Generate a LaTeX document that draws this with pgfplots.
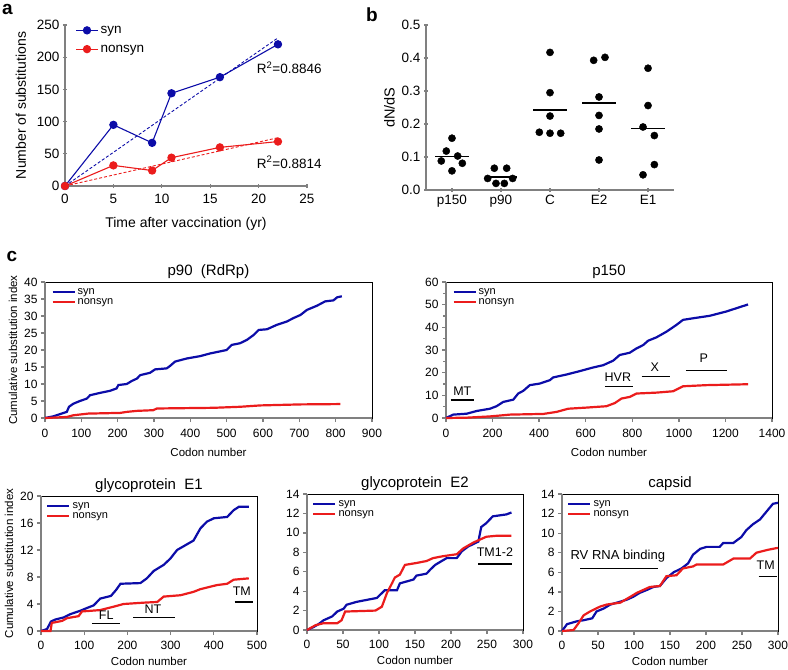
\documentclass[border=0pt]{standalone}
\usepackage{fontspec}
\setmainfont{Liberation Sans}
\usepackage{pgfplots}
\pgfplotsset{compat=1.18}

\definecolor{synblue}{RGB}{12,12,168}
\definecolor{nsred}{RGB}{235,28,28}
\definecolor{axgray}{RGB}{128,128,128}

\newcommand\fs[1]{\fontsize{#1}{#1}\selectfont}
\newcommand\spines{\draw[axgray, line width=2pt] (rel axis cs:0,1) -- (rel axis cs:0,0) -- (rel axis cs:1,0);}
\newcommand\regbar[3]{\draw[black, line width=1.3pt] (axis cs:#1,#3) -- (axis cs:#2,#3);}

\pgfplotsset{
  base/.style={scale only axis, anchor=south west,
    /pgf/number format/assume math mode=true,
    /pgf/number format/set thousands separator={},
    tick align=outside, major tick length=4pt,
    xtick pos=bottom, ytick pos=left,
    tick style={axgray, line width=1.3pt},
    ticklabel style={font=\fs{12}},
    label style={font=\fs{11.5}},
  },
  cpanel/.style={base, clip=false,
    axis line style={black, line width=0.7pt},
    title style={font=\fs{15}, yshift=-6pt},
    xlabel={Codon number},
    xticklabel style={yshift=-4pt},
    xlabel style={yshift=-3pt},
    legend style={at={(0.01,0.985)}, anchor=north west, draw=none, fill=none,
      font=\fs{11}, row sep=-1.5pt, legend cell align=left},
    legend image code/.code={\draw[##1] (0pt,0pt) -- (22pt,0pt);},
    every axis plot/.append style={line width=2.2pt},
  },
  % these add to the shifts of cpanel
  lowrow/.style={xticklabel style={yshift=1pt}, xlabel style={yshift=3pt}},
}

\begin{document}
\begin{tikzpicture}
\path[use as bounding box] (0,0) rectangle (788pt,-670pt);

% panel letters
\node[font=\bfseries\fs{19}, inner sep=0pt] at (7.5pt,-9.5pt) {a};
\node[font=\bfseries\fs{19}, inner sep=0pt] at (372pt,-15pt) {b};
\node[font=\bfseries\fs{19}, inner sep=0pt] at (12pt,-256pt) {c};

% ---- a ----
\begin{axis}[base, at={(65pt,-186pt)}, width=242pt, height=161pt,
  xmin=0, xmax=25, ymin=0, ymax=250,
  xtick={0,5,...,25}, ytick={0,50,...,250},
  axis lines=left, axis line style={-, axgray, line width=1.5pt},
  clip=false,
  xlabel={Time after vaccination (yr)},
  ylabel={Number of substitutions},
  label style={font=\fs{14}},
  ticklabel style={font=\fs{13.5}},
  xticklabel style={yshift=-3pt},
  xlabel style={yshift=-6pt},
  ylabel style={yshift=4pt},
  legend style={at={(0.03,1.02)}, anchor=north west, draw=none, fill=none,
    font=\fs{13.5}, row sep=6pt, legend cell align=left},
  legend image code/.code={\draw[mark repeat=2, mark phase=2, #1] plot coordinates {(0pt,0pt) (11pt,0pt) (22pt,0pt)};},
]
\addplot[synblue, line width=1.1pt, mark=*, mark size=3.6pt] coordinates {
  (0,0) (5,95) (9,67) (11,144) (16,169) (22,220)};
\addplot[nsred, line width=1.1pt, mark=*, mark size=3.6pt] coordinates {
  (0,0) (5,32) (9,24) (11,44) (16,60) (22,69)};
\legend{syn, nonsyn}
\addplot[synblue, line width=0.9pt, dash pattern=on 3pt off 2pt, forget plot] coordinates {(0,0) (22,230)};
\addplot[nsred, line width=0.9pt, dash pattern=on 3pt off 2pt, forget plot] coordinates {(0,0) (22,75)};
\node[anchor=west, font=\fs{13.5}, inner sep=0pt] at (axis cs:19.8,183) {R\textsuperscript{2}=0.8846};
\node[anchor=west, font=\fs{13.5}, inner sep=0pt] at (axis cs:19.8,37) {R\textsuperscript{2}=0.8814};
\end{axis}

% ---- b ----
\begin{axis}[base, at={(426pt,-190pt)}, width=248pt, height=165pt,
  xmin=0.47, xmax=5.53, ymin=0, ymax=0.5,
  xtick={1,2,3,4,5}, xticklabels={p150,p90,C,E2,E1},
  ytick={0,0.1,...,0.5},
  yticklabel style={/pgf/number format/.cd, fixed, fixed zerofill, precision=1},
  axis lines=left, axis line style={-, axgray, line width=1.5pt},
  clip=false,
  ylabel={dN/dS},
  label style={font=\fs{14.5}},
  ticklabel style={font=\fs{13.5}},
]
\addplot[only marks, mark=*, mark size=3.6pt, black] coordinates {
  (1,0.157) (0.884,0.118) (1.116,0.103) (0.782,0.088) (1.211,0.081) (1,0.058)
  (1.864,0.066) (2.116,0.066) (1.728,0.035) (2.238,0.035) (1.898,0.020) (2.068,0.020)
  (3,0.417) (3,0.295) (3,0.224) (2.782,0.175) (3,0.172) (3.218,0.172)
  (3.891,0.393) (4.122,0.402) (4,0.282) (4,0.226) (4,0.185) (4,0.091)
  (5,0.369) (5,0.256) (4.898,0.191) (5.129,0.165) (5.129,0.077) (4.898,0.046)};
\addplot[black, line width=1.6pt] coordinates {(0.66,0.101) (1.34,0.101)};
\addplot[black, line width=1.6pt] coordinates {(1.67,0.040) (2.33,0.040)};
\addplot[black, line width=1.6pt] coordinates {(2.66,0.243) (3.34,0.243)};
\addplot[black, line width=1.6pt] coordinates {(3.66,0.264) (4.34,0.264)};
\addplot[black, line width=1.6pt] coordinates {(4.66,0.186) (5.34,0.186)};
\end{axis}

% ---- c: p90 ----
\begin{axis}[cpanel, at={(45pt,-418pt)}, width=327pt, height=136pt,
  xmin=0, xmax=900, ymin=0, ymax=40,
  xtick={0,100,...,900}, ytick={0,5,...,40},
  title={p90\ \ (RdRp)},
  ylabel={Cumulative substitution index},
]
\spines
\addplot[synblue] coordinates {
  (0,0) (23,0.5) (46,1.3) (60,1.8) (66,3.3) (78,4.2) (96,5.0) (115,5.7) (124,6.7)
  (152,7.4) (179,8.0) (197,8.7) (202,9.7) (225,10.0) (239,10.9) (253,11.6) (262,12.6)
  (289,13.3) (303,14.3) (335,14.6) (344,15.3) (358,16.6) (390,17.5) (427,18.2)
  (455,19.0) (500,20.0) (514,21.5) (537,22.0) (556,23.0) (574,24.4) (588,25.9)
  (611,26.1) (638,27.4) (666,28.4) (684,29.4) (703,30.3) (721,31.8) (748,33.0)
  (771,34.3) (794,34.6) (804,35.5) (817,35.8)};
\addplot[nsred] coordinates {
  (0,0) (60,0.3) (78,0.8) (119,1.3) (207,1.5) (225,1.8) (253,2.1) (298,2.3)
  (308,2.8) (464,3.0) (537,3.3) (592,3.7) (703,4.0) (813,4.1)};
\legend{syn, nonsyn}
\end{axis}

% ---- c: p150 ----
\begin{axis}[cpanel, at={(446pt,-418pt)}, width=326pt, height=136pt,
  xmin=0, xmax=1400, ymin=0, ymax=60,
  xtick={0,200,...,1400}, ytick={0,10,...,60}, minor y tick num=1,
  minor tick length=3pt,
  title={p150},
]
\spines
\addplot[synblue] coordinates {
  (0,0) (31,1.5) (89,1.9) (132,3.1) (189,4.1) (217,5.2) (246,7.1) (289,8.1)
  (310,10.8) (332,12.0) (360,14.5) (403,15.2) (446,16.7) (460,17.9) (518,19.2)
  (575,20.7) (632,22.3) (675,23.3) (718,25.3) (746,27.8) (789,28.8) (818,30.7)
  (847,32.2) (868,34.1) (904,35.6) (947,38.1) (990,41.1) (1018,43.3) (1061,44.0)
  (1133,45.1) (1204,47.0) (1261,48.9) (1297,50.1)};
\addplot[nsred] coordinates {
  (0,0) (89,0.15) (189,0.7) (275,1.5) (418,1.8) (475,2.7) (525,4.1) (604,4.6)
  (689,5.2) (725,6.6) (754,8.6) (789,9.3) (818,10.8) (904,11.2) (975,11.8)
  (1018,14.0) (1119,14.5) (1297,14.9)};
\legend{syn, nonsyn}
\regbar{20}{120}{8}
\regbar{682}{802}{14}
\regbar{840}{961}{18.2}
\regbar{1030}{1207}{21.1}
\node[font=\fs{12.5}] at (axis cs:70,11.8) {MT};
\node[font=\fs{12.5}] at (axis cs:738,18.2) {HVR};
\node[font=\fs{12.5}] at (axis cs:897,22.6) {X};
\node[font=\fs{12.5}] at (axis cs:1107,26.3) {P};
\end{axis}

% ---- c: E1 ----
\begin{axis}[cpanel, lowrow, at={(41pt,-631pt)}, width=216pt, height=135pt,
  xmin=0, xmax=500, ymin=0, ymax=20,
  xtick={0,100,...,500}, ytick={0,4,...,20},
  title={glycoprotein\ \ E1},
  ylabel={Cumulative substitution index},
]
\spines
\addplot[synblue] coordinates {
  (0,0) (14,0.3) (23,1.4) (33,1.7) (52,2.0) (68,2.5) (91,3.0) (106,3.4) (122,3.8)
  (137,4.8) (162,5.2) (174,6.1) (184,7.0) (230,7.1) (245,7.8) (261,8.9) (284,9.8)
  (299,10.7) (315,12.0) (334,12.7) (353,13.4) (369,15.2) (384,16.2) (400,16.7)
  (431,16.9) (446,17.9) (458,18.4) (481,18.4)};
\addplot[nsred] coordinates {
  (0,0) (22,0) (25,1.2) (49,1.5) (60,1.9) (87,2.2) (95,2.9) (137,3.1) (168,3.6)
  (191,4.0) (238,4.2) (269,4.3) (284,5.1) (323,5.3) (353,5.8) (369,6.2) (407,6.8)
  (431,7.0) (446,7.6) (481,7.8)};
\legend{syn, nonsyn}
\regbar{118}{184}{1.1}
\regbar{214}{311}{2.0}
\regbar{448}{491}{4.3}
\node[font=\fs{12.5}] at (axis cs:151,2.4) {FL};
\node[font=\fs{12.5}] at (axis cs:259,3.2) {NT};
\node[font=\fs{12.5}] at (axis cs:465,5.9) {TM};
\end{axis}

% ---- c: E2 ----
\begin{axis}[cpanel, lowrow, at={(307pt,-630pt)}, width=216pt, height=136pt,
  xmin=0, xmax=300, ymin=0, ymax=14,
  xtick={0,50,...,300}, ytick={0,2,...,14},
  title={glycoprotein\ \ E2},
]
\spines
\addplot[synblue] coordinates {
  (0,0) (9,0.3) (16,0.6) (23,1.0) (35,1.4) (42,1.9) (51,2.2) (55,2.6) (69,2.9)
  (83,3.1) (97,3.3) (104,3.8) (108,4.1) (125,4.1) (129,4.8) (148,5.2) (152,5.6)
  (166,5.8) (171,6.2) (178,6.7) (187,7.1) (194,7.4) (208,7.4) (215,8.1) (224,8.6)
  (238,9.1) (242,10.6) (249,11.0) (258,11.7) (277,11.9) (284,12.1)};
\addplot[nsred] coordinates {
  (0,0) (12,0.5) (23,0.7) (42,0.7) (48,1.0) (53,1.9) (95,2.0) (104,2.4) (111,3.8)
  (118,4.8) (122,5.4) (129,5.7) (136,6.7) (152,6.9) (166,7.1) (175,7.4) (189,7.6)
  (208,7.8) (217,8.4) (231,9.0) (249,9.6) (263,9.7) (284,9.7)};
\legend{syn, nonsyn}
\regbar{238}{285}{6.8}
\node[font=\fs{12.5}] at (axis cs:261,8.0) {TM1-2};
\end{axis}

% ---- c: capsid ----
\begin{axis}[cpanel, lowrow, at={(562pt,-631pt)}, width=216pt, height=137pt,
  xmin=0, xmax=300, ymin=0, ymax=14,
  xtick={0,50,...,300}, ytick={0,2,...,14},
  title={capsid},
]
\spines
\addplot[synblue] coordinates {
  (0,0) (7,0.7) (21,1.0) (30,1.1) (42,1.3) (48,2.0) (58,2.3) (67,2.7) (81,3.0)
  (90,3.2) (99,3.5) (108,3.9) (118,4.2) (127,4.5) (136,4.6) (145,5.4) (155,6.0)
  (166,6.4) (175,6.9) (182,7.8) (192,8.4) (201,8.6) (219,8.6) (224,9.0) (238,9.0)
  (249,9.6) (256,10.3) (265,10.9) (275,11.4) (284,12.2) (293,13.0) (300,13.1)};
\addplot[nsred] coordinates {
  (0,0) (16,0.1) (23,0.8) (30,1.6) (39,2.0) (53,2.5) (62,2.7) (81,2.9) (95,3.5)
  (104,3.9) (122,4.5) (136,4.6) (145,5.6) (159,5.7) (168,6.4) (182,6.6) (187,6.8)
  (224,6.8) (238,7.4) (261,7.4) (270,8.0) (286,8.3) (300,8.5)};
\legend{syn, nonsyn}
\regbar{25}{133}{6.4}
\regbar{273}{298}{5.6}
\node[font=\fs{13}] at (axis cs:77.5,7.6) {RV RNA binding};
\node[font=\fs{12.5}] at (axis cs:283,6.7) {TM};
\end{axis}
\end{tikzpicture}
\end{document}
